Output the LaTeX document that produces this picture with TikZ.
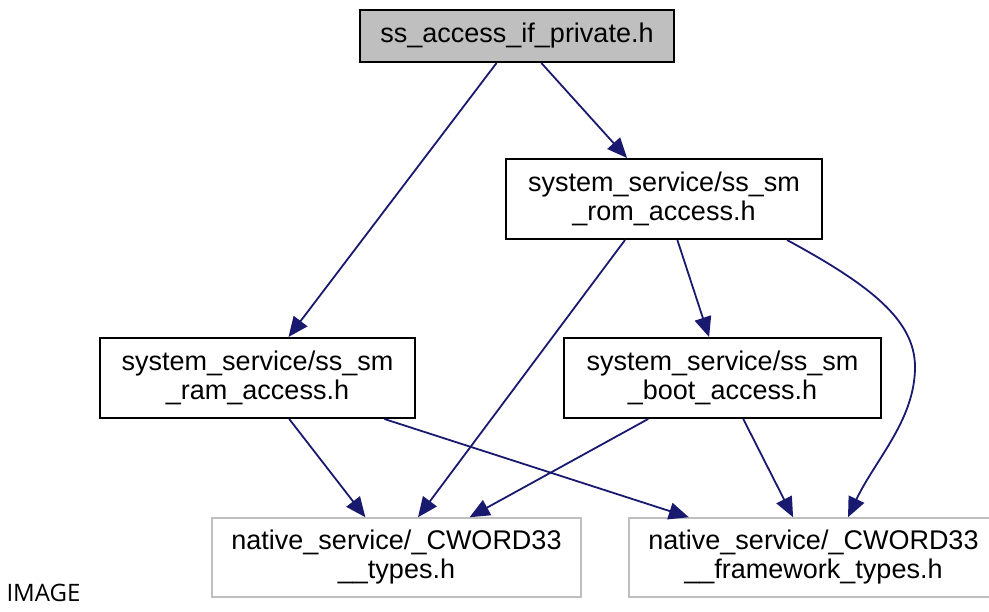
\documentclass[tikz,border=0pt]{standalone}
\usepackage{fontspec}
\setmainfont{Liberation Sans}
\newfontfamily\capfont{Open Sans}
\usetikzlibrary{arrows.meta}
\definecolor{edgeblue}{HTML}{191970}
\definecolor{boxgray}{HTML}{BFBFBF}
\begin{document}
\begin{tikzpicture}[x=1pt,y=-1pt,>={Triangle[length=20pt,width=17pt]},
  file/.style={draw=black,line width=2pt,inner sep=0pt,minimum width=316pt,minimum height=80pt,
    align=center,font=\fontsize{27}{29}\selectfont},
  extfile/.style={file,draw=boxgray,line width=1.5pt,minimum width=369pt,minimum height=79pt},
  dep/.style={->,draw=edgeblue,line width=1.8pt}]
\useasboundingbox (0,0) rectangle (989,612);
\clip (0,0) rectangle (989,612);
% files
\node[file,fill=boxgray,minimum width=314pt,minimum height=52pt] (top) at (517,36) {ss\_access\_if\_private.h};
\node[file] (rom) at (664,199) {system\_service/ss\_sm\\\_rom\_access.h};
\node[file,minimum width=315pt] (ram) at (257.5,378) {system\_service/ss\_sm\\\_ram\_access.h};
\node[file,minimum width=317pt] (boot) at (722.5,378) {system\_service/ss\_sm\\\_boot\_access.h};
\node[extfile] (types) at (396.5,557.5) {native\_service/\_CWORD33\\\_\_types.h};
\node[extfile] (fw) at (813.5,557.5) {native\_service/\_CWORD33\\\_\_framework\_types.h};
\node[anchor=base west,font=\capfont\fontsize{24}{26}\selectfont] (cap) at (3,601) {IMAGE};
% includes
\draw[dep] (top)--(ram);
\draw[dep] (top)--(rom);
\draw[dep] ([xshift=-39pt]rom.south)--([xshift=21.5pt]types.north);
\draw[dep] (rom)--(boot);
\draw[dep] ([xshift=-36pt]rom.south east) .. controls (870,285) and (915,320) .. (915,367)
  .. controls (915,420) and (875,460) .. ([xshift=34.5pt]fw.north);
\draw[dep] (ram)--(types);
\draw[dep] (ram)--(fw);
\draw[dep] (boot)--(types);
\draw[dep] (boot)--(fw);
\end{tikzpicture}
\end{document}
